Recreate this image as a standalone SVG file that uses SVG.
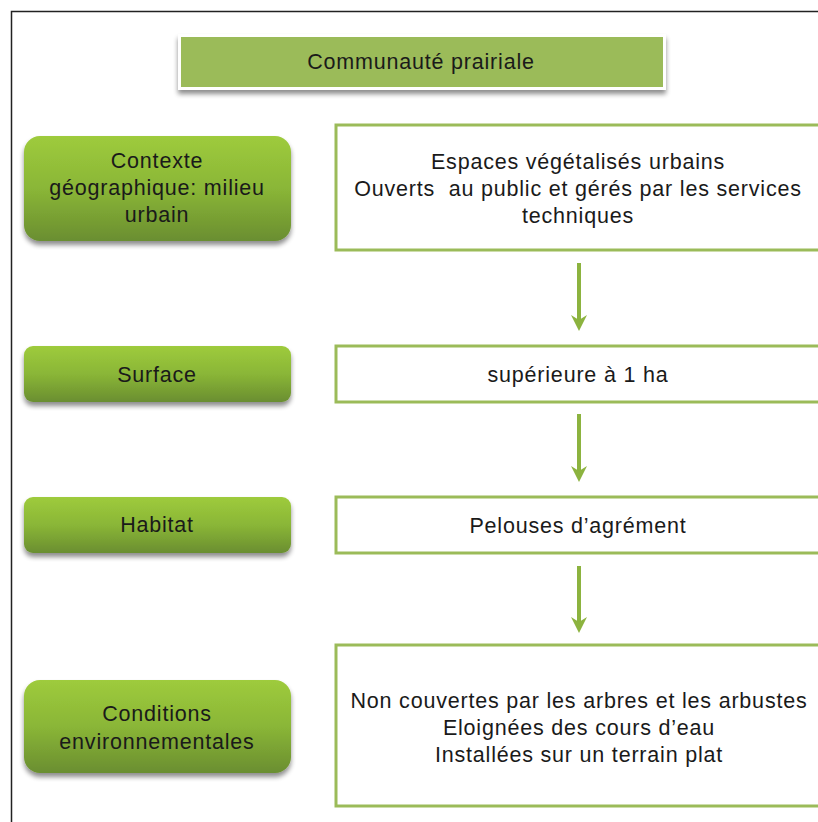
<svg xmlns="http://www.w3.org/2000/svg" width="818" height="822" viewBox="0 0 818 822">
<defs>
<linearGradient id="gr" x1="0" y1="0" x2="0" y2="1">
<stop offset="0" stop-color="#9ecb3c"/>
<stop offset="0.5" stop-color="#8ab637"/>
<stop offset="1" stop-color="#6a8e30"/>
</linearGradient>
<filter id="sh" x="-10%" y="-10%" width="120%" height="140%">
<feGaussianBlur in="SourceAlpha" stdDeviation="2.5"/>
<feOffset dx="0" dy="4" result="b"/>
<feComponentTransfer><feFuncA type="linear" slope="0.45"/></feComponentTransfer>
<feMerge><feMergeNode/><feMergeNode in="SourceGraphic"/></feMerge>
</filter>
<marker id="ah" markerWidth="16" markerHeight="18" refX="6" refY="9" viewBox="0 0 16 18" markerUnits="userSpaceOnUse" orient="auto">
<path d="M0,1 L16,9 L0,17 L5,9 Z" fill="#8cb33f"/>
</marker>
<style>
text{font-family:"Liberation Sans",Arial,sans-serif;font-size:21.5px;letter-spacing:0.8px;fill:#1a1a1a;text-anchor:middle}
.lb{fill:url(#gr);filter:url(#sh)}
.rb{fill:#ffffff;stroke:#9bbb59;stroke-width:3}
.cn{stroke:#8cb33f;stroke-width:4;fill:none}
</style>
</defs>
<rect x="0" y="0" width="818" height="822" fill="#ffffff"/>
<path d="M11.5,822 V11.5 H818" fill="none" stroke="#222" stroke-width="1.5"/>

<g id="title">
<rect x="178" y="34" width="488" height="56" fill="#ffffff" filter="url(#sh)"/>
<rect x="181" y="37" width="482" height="50" fill="#9bbb59"/>
<text x="421" y="69">Communauté prairiale</text>
</g>

<g id="contexte">
<rect class="lb" x="24" y="136" width="267" height="105" rx="16"/>
<text x="157" y="168">Contexte</text>
<text x="157" y="195">géographique: milieu</text>
<text x="157" y="222">urbain</text>
</g>
<g id="espaces">
<rect class="rb" x="336" y="125" width="486" height="125"/>
<text x="578" y="169">Espaces végétalisés urbains</text>
<text x="578" y="196" xml:space="preserve">Ouverts  au public et gérés par les services</text>
<text x="578" y="223">techniques</text>
</g>

<g id="surface">
<rect class="lb" x="24" y="346" width="267" height="56" rx="9"/>
<text x="157" y="382">Surface</text>
</g>
<g id="superieure">
<rect class="rb" x="336" y="346" width="486" height="56"/>
<text x="578" y="382">supérieure à 1 ha</text>
</g>

<g id="habitat">
<rect class="lb" x="24" y="497" width="267" height="56" rx="9"/>
<text x="157" y="532">Habitat</text>
</g>
<g id="pelouses">
<rect class="rb" x="336" y="497" width="486" height="56"/>
<text x="578" y="533">Pelouses d’agrément</text>
</g>

<g id="conditions">
<rect class="lb" x="24" y="680" width="267" height="93" rx="16"/>
<text x="157" y="721">Conditions</text>
<text x="157" y="749">environnementales</text>
</g>
<g id="nonCouvertes">
<rect class="rb" x="336" y="645" width="486" height="161"/>
<text x="579" y="708">Non couvertes par les arbres et les arbustes</text>
<text x="579" y="735">Eloignées des cours d’eau</text>
<text x="579" y="762">Installées sur un terrain plat</text>
</g>

<g id="connectors">
<line class="cn" x1="579" y1="263" x2="579" y2="321" marker-end="url(#ah)"/>
<line class="cn" x1="579" y1="414" x2="579" y2="472" marker-end="url(#ah)"/>
<line class="cn" x1="579" y1="566" x2="579" y2="623" marker-end="url(#ah)"/>
</g>
</svg>
